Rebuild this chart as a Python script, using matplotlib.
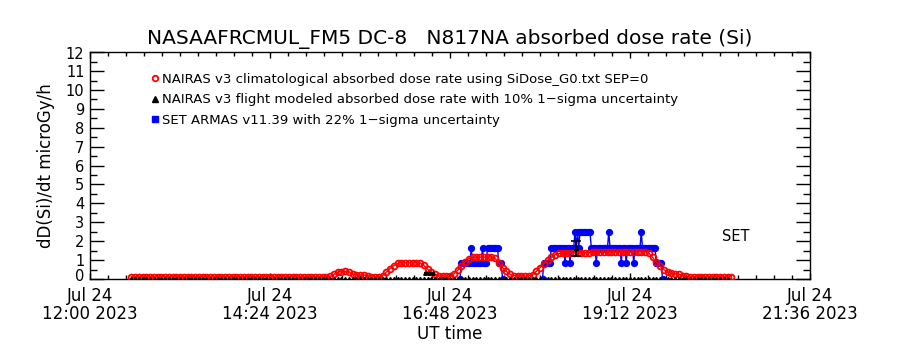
import matplotlib
matplotlib.use("Agg")
import matplotlib.pyplot as plt
from matplotlib.lines import Line2D
import numpy as np

# ---------------- data (minutes after 12:00 UT, Jul 24 2023) ----------------
title = "NASAAFRCMUL_FM5 DC-8   N817NA absorbed dose rate (Si)"
ylabel = "dD(Si)/dt microGy/h"
xlabel = "UT time"
xtick_minutes = [0, 144, 288, 432, 576]
xtick_labels = ["Jul 24\n12:00 2023", "Jul 24\n14:24 2023", "Jul 24\n16:48 2023",
                "Jul 24\n19:12 2023", "Jul 24\n21:36 2023"]
ytick_values = list(range(13))
ytick_labels = [str(i) for i in range(13)]
legend_labels = ["NAIRAS v3 climatological absorbed dose rate using SiDose_G0.txt SEP=0",
                 "NAIRAS v3 flight modeled absorbed dose rate with 10% 1\u2212sigma uncertainty",
                 "SET ARMAS v11.39 with 22% 1\u2212sigma uncertainty"]

# NAIRAS climatological (red), every 3 minutes from 12:33
clim_start, clim_step = 33, 3
clim_values = [
    0.12, 0.12, 0.12, 0.12, 0.12, 0.12, 0.12, 0.12, 0.12, 0.12,
    0.12, 0.12, 0.12, 0.12, 0.12, 0.12, 0.12, 0.12, 0.12, 0.12,
    0.12, 0.12, 0.12, 0.12, 0.12, 0.12, 0.12, 0.12, 0.12, 0.12,
    0.12, 0.12, 0.12, 0.12, 0.12, 0.12, 0.12, 0.12, 0.12, 0.12,
    0.12, 0.12, 0.12, 0.12, 0.12, 0.12, 0.12, 0.12, 0.12, 0.12,
    0.12, 0.12, 0.12,                                      # ..189
    0.14, 0.24, 0.36, 0.39, 0.40, 0.38, 0.24, 0.21, 0.21, 0.21,  # 192..219
    0.17, 0.12, 0.12, 0.12, 0.17, 0.36, 0.55, 0.70, 0.82, 0.86,  # 222..249
    0.86, 0.86, 0.86, 0.86, 0.86, 0.72, 0.52, 0.36, 0.24, 0.17,  # 252..279
    0.14, 0.13, 0.14, 0.26, 0.45, 0.68, 0.90, 1.08, 1.15, 1.15,  # 282..309
    1.16, 1.16, 1.16, 1.15, 1.10, 0.85, 0.60, 0.40, 0.25, 0.18,  # 312..339
    0.15, 0.14, 0.15, 0.17, 0.22, 0.40, 0.60, 0.80, 0.98, 1.15,  # 342..369
    1.28, 1.35, 1.36, 1.37, 1.37, 1.38, 1.38, 1.38, 1.39, 1.39,  # 372..399
    1.40, 1.40, 1.40, 1.41, 1.41, 1.41, 1.42, 1.42, 1.42, 1.43,  # 402..429
    1.42, 1.44, 1.44, 1.44, 1.44, 1.38, 1.15, 0.90, 0.68, 0.50,  # 432..459
    0.38, 0.30, 0.27, 0.25, 0.18, 0.13, 0.12, 0.12, 0.12, 0.12,  # 462..489
    0.12, 0.12, 0.12, 0.12, 0.12, 0.12, 0.12, 0.12,              # 492..513
]

# NAIRAS flight modeled (black)
flight_start, flight_step = 33, 3
flight_count = 160
flight_value_base = 0.0
flight_extra_minutes = [268, 271, 274]
flight_extra_values = [0.33, 0.33, 0.33]
flight_err_minute = [389]
flight_err_value = [1.63]
flight_err_sigma = [0.39]

# SET ARMAS (blue), one value per minute
armas_seg1_start = 296
armas_seg1 = [0.0, 0.83, 0.83, 0.83, 0.83, 0.83, 0.83, 0.83, 0.83, 1.66,   # 296..305
              0.83, 0.83, 0.83, 0.83, 0.83, 0.83, 0.83, 0.83, 1.66, 0.83,   # 306..315
              0.83, 0.83, 1.66, 1.66, 1.66, 1.66, 1.66, 1.66, 1.66, 1.66,   # 316..325
              1.66, 0.83, 0.83, 0.83, 0.0]                                 # 326..330
armas_seg2_start = 362
armas_seg2 = [0.0, 0.83, 0.83, 0.83, 0.83, 0.83, 0.83, 1.66, 1.66, 1.66,   # 362..371
              1.66, 1.66, 1.66, 1.66, 1.66, 1.66, 1.66, 1.66, 0.83, 1.66,   # 372..381
              1.66, 1.66, 0.83, 1.66, 1.66, 1.66, 2.49, 1.66, 2.49, 1.66,   # 382..391
              2.49, 2.49, 2.49, 2.49, 2.49, 2.49, 2.49, 2.49, 2.49, 1.66,   # 392..401
              1.66, 1.66, 1.66, 0.83, 1.66, 1.66, 1.66, 1.66, 1.66, 1.66,   # 402..411
              1.66, 1.66, 1.66, 2.49, 1.66, 1.66, 1.66, 1.66, 1.66, 1.66,   # 412..421
              1.66, 1.66, 1.66, 0.83, 1.66, 1.66, 1.66, 0.83, 1.66, 1.66,   # 422..431
              1.66, 1.66, 1.66, 0.83, 1.66, 1.66, 1.66, 1.66, 1.66, 2.49,   # 432..441
              1.66, 1.66, 1.66, 1.66, 1.66, 1.66, 1.66, 1.66, 1.66, 1.66,   # 442..451
              1.66, 0.83, 0.83, 0.83, 0.83, 0.83, 0.0]                     # 452..458

xlim = (0, 576)
ylim = (0, 12)
set_text = "SET"

# ---------------- plotting ----------------
plt.rcParams['font.family'] = ['DejaVu Sans']
fig = plt.figure(figsize=(9, 3.5), dpi=100)
ax = fig.add_axes([0.1, 0.203, 0.8, 0.648])

clim_t = clim_start + clim_step * np.arange(len(clim_values))
flight_t = flight_start + flight_step * np.arange(flight_count)
flight_v = np.full(flight_count, flight_value_base)
a1_t = armas_seg1_start + np.arange(len(armas_seg1))
a2_t = armas_seg2_start + np.arange(len(armas_seg2))

blue = '#0000ff'
red = '#ff0000'

for t, v in ((a1_t, armas_seg1), (a2_t, armas_seg2)):
    ax.plot(t, v, color=blue, lw=1.0, marker='o', ms=4.2, mfc=blue, mec=blue,
            zorder=2, clip_on=True)

ax.plot(clim_t, clim_values, color=red, lw=1.0, marker='o', ms=4.2, mfc='none',
        mec=red, mew=1.3, zorder=3)

ax.plot(flight_t, flight_v, ls='none', marker='^', ms=3, color='black', zorder=4)
ax.plot(flight_extra_minutes, flight_extra_values, ls='-', lw=2, marker='^', ms=2.5,
        color='black', zorder=4)
ax.errorbar(flight_err_minute, flight_err_value, yerr=flight_err_sigma, fmt='^', ms=3,
            color='black', ecolor='black', elinewidth=1.2, capsize=3.5, capthick=1.2,
            zorder=5)

ax.set_xlim(*xlim)
ax.set_ylim(*ylim)
ax.set_xticks(xtick_minutes)
ax.set_xticklabels(xtick_labels, fontsize=12, linespacing=1.0)
ax.set_xticks(np.arange(xlim[0], xlim[1] + 1, 14.4), minor=True)
ax.set_yticks(ytick_values)
# end labels are drawn separately, nudged inward like the original
inner = ['' if i in (0, len(ytick_labels) - 1) else s for i, s in enumerate(ytick_labels)]
ax.set_yticklabels(inner, fontsize=10.5)
ax.annotate(ytick_labels[0], xy=(0, ytick_values[0]), xycoords=('axes fraction', 'data'),
            xytext=(-4.3, 1.6), textcoords='offset points', ha='right', va='center',
            fontsize=10.5)
ax.annotate(ytick_labels[-1], xy=(0, ytick_values[-1]), xycoords=('axes fraction', 'data'),
            xytext=(-4.3, -1.6), textcoords='offset points', ha='right', va='center',
            fontsize=10.5)
ax.set_yticks(np.arange(0, 12.01, 0.5), minor=True)

ax.tick_params(axis='y', which='major', direction='in', length=10, width=1,
               left=True, right=True, pad=4)
ax.tick_params(axis='y', which='minor', direction='in', length=5, width=1,
               left=True, right=True)
ax.tick_params(axis='x', which='major', direction='in', length=4, width=1,
               top=True, bottom=True, pad=6)
ax.tick_params(axis='x', which='minor', direction='in', length=3, width=1,
               top=True, bottom=True)
for s in ax.spines.values():
    s.set_linewidth(1.0)

ax.set_title(title, fontsize=14.5, pad=6)
ax.set_ylabel(ylabel, fontsize=12, labelpad=8)
ax.set_xlabel(xlabel, fontsize=12, labelpad=1)

ax.text(0.878, 0.185, set_text, transform=ax.transAxes, fontsize=10.5,
        ha='left', va='center')

handles = [
    Line2D([], [], ls='none', marker='o', ms=4, mfc='none', mec=red, mew=1.3),
    Line2D([], [], ls='none', marker='^', ms=4, color='black'),
    Line2D([], [], ls='none', marker='s', ms=4, color=blue),
]
ax.legend(handles, legend_labels, loc='upper left', bbox_to_anchor=(0.085, 0.908),
          frameon=False, fontsize=9.5, handlelength=0.6, handletextpad=0.2,
          labelspacing=0.55, borderpad=0, borderaxespad=0)

fig.savefig("out.png", dpi=100)
